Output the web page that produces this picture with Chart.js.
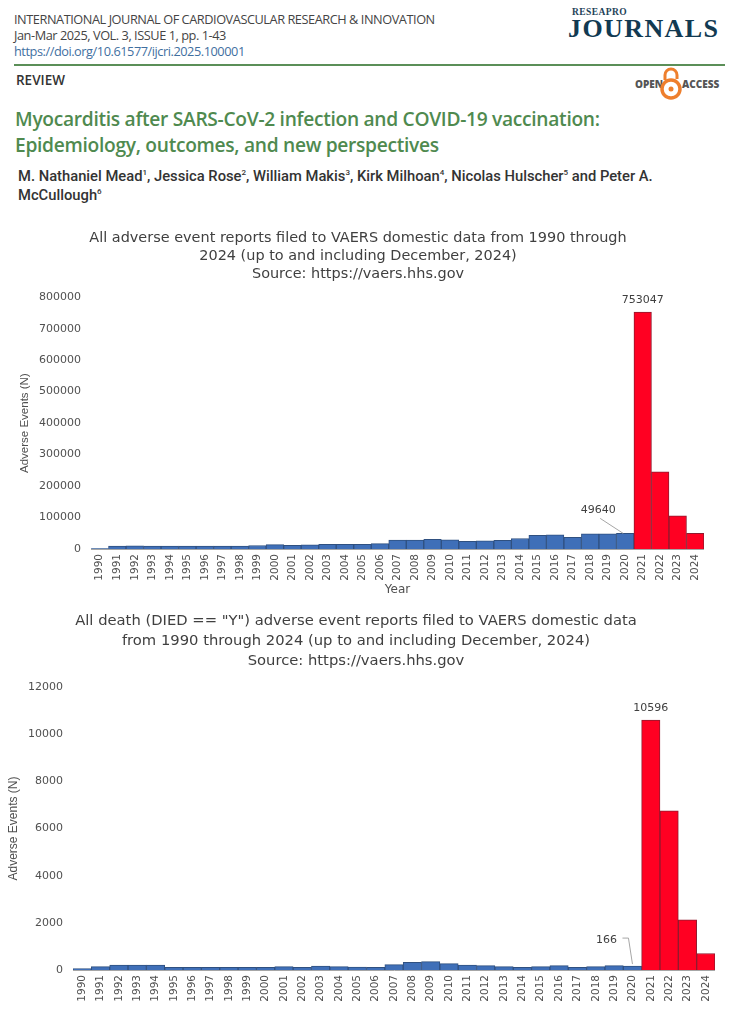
<!DOCTYPE html>
<html>
<head>
<meta charset="utf-8">
<title>VAERS adverse event reports</title>
<script src="https://cdn.jsdelivr.net/npm/chart.js@4"></script>
<style>
  html, body { margin: 0; padding: 0; background: #fff; }
  body { position: relative; width: 738px; height: 1024px; overflow: hidden; font-family: "Open Sans", sans-serif; }
  .t { position: absolute; white-space: nowrap; }
  canvas { position: absolute; }
  .rule { position: absolute; left: 14px; top: 64px; width: 711px; height: 2px; background: #5b8f58; }
  .jr { font-size: 12.75px; color: #444; letter-spacing: -0.45px; }
  .head { font-size: 19.2px; font-weight: 600; color: #4f8a4f; letter-spacing: -0.3px; }
  .auth { font-family: Roboto, sans-serif; font-size: 14.75px; font-weight: 500; color: #333; }
  .auth sup { font-size: 8px; line-height: 0; }
  .oa { font-size: 10px; font-weight: 800; color: #555; }
</style>
</head>
<body>
<div class="t jr" style="left:14px;top:10px">INTERNATIONAL JOURNAL OF CARDIOVASCULAR RESEARCH &amp; INNOVATION</div>
<div class="t jr" style="left:14px;top:26px">Jan-Mar 2025, VOL. 3, ISSUE 1, pp. 1-43</div>
<div class="t jr" style="left:14px;top:42px;color:#3f6f9f">https://doi.org/10.61577/ijcri.2025.100001</div>
<div class="t" style="left:572px;top:7px;font:bold 9.5px 'Liberation Serif',serif;color:#1d4258;letter-spacing:0.4px">RESEAPRO</div>
<div class="t" style="left:568px;top:14px;font:bold 26px 'Liberation Serif',serif;color:#123a52;letter-spacing:1.4px">JOURNALS</div>
<div class="rule"></div>
<div class="t" style="left:16px;top:71px;font-size:13.5px;font-weight:600;color:#333">REVIEW</div>
<div class="t oa" style="left:635px;top:77px">OPEN</div>
<div class="t oa" style="left:682px;top:77px">ACCESS</div>
<svg style="position:absolute;left:660px;top:67px" width="22" height="34" viewBox="0 0 22 34">
  <path d="M5 13 V8 A6 6 0 0 1 17 8 V12" fill="none" stroke="#ee7f2d" stroke-width="3"/>
  <circle cx="11" cy="22" r="9" fill="none" stroke="#ee7f2d" stroke-width="3.5"/>
  <circle cx="11" cy="22" r="2.5" fill="#ee7f2d"/>
</svg>
<div class="t head" style="left:15px;top:105px">Myocarditis after SARS-CoV-2 infection and COVID-19 vaccination:</div>
<div class="t head" style="left:15px;top:131px">Epidemiology, outcomes, and new perspectives</div>
<div class="t auth" style="left:18px;top:167px">M. Nathaniel Mead<sup>1</sup>, Jessica Rose<sup>2</sup>, William Makis<sup>3</sup>, Kirk Milhoan<sup>4</sup>, Nicolas Hulscher<sup>5</sup> and Peter A.</div>
<div class="t auth" style="left:18px;top:186px">McCullough<sup>6</sup></div>

<canvas id="allReports" style="left:12px;top:226px;width:692px;height:371px"></canvas>
<canvas id="deathReports" style="left:-3px;top:609px;width:718px;height:402px"></canvas>

<script>
const years = ['1990','1991','1992','1993','1994','1995','1996','1997','1998','1999','2000','2001',
  '2002','2003','2004','2005','2006','2007','2008','2009','2010','2011','2012','2013','2014','2015',
  '2016','2017','2018','2019','2020','2021','2022','2023','2024'];
const allEvents = [1000,9500,9800,9500,9300,9000,9500,9200,9500,11000,14000,11500,
  13000,15000,14500,14500,17000,28000,28000,31000,29000,24500,26000,27500,33500,43500,
  45000,37000,48500,48500,49640,753047,245000,105000,50000];
const deathEvents = [60,140,212,212,212,113,113,113,113,113,113,140,
  113,170,140,120,113,225,325,353,268,212,184,141,113,141,
  184,113,141,184,166,10596,6750,2130,700];
const allTicks = [0,100000,200000,300000,400000,500000,600000,700000,800000];
const deathTicks = [0,2000,4000,6000,8000,10000,12000];

const tickColor = '#505050';

// value labels with their leader lines, placed relative to the bar they belong to
const callouts = {
  id: 'callouts',
  afterDatasetsDraw(chart, args, opts) {
    const c = chart.ctx;
    const x = chart.scales.x, y = chart.scales.y;
    c.save();
    c.font = '11px "DejaVu Sans"';
    c.fillStyle = '#404040';
    c.textAlign = 'center';
    c.textBaseline = 'middle';
    const data = chart.data.datasets[0].data;
    // peak value sits straight above its bar
    c.fillText(data[opts.peak], x.getPixelForValue(opts.peak), y.getPixelForValue(data[opts.peak]) - 12);
    const px = x.getPixelForValue(opts.note);
    const py = y.getPixelForValue(data[opts.note]);
    c.fillText(data[opts.note], px + opts.textDx, py + opts.textDy);
    c.strokeStyle = '#a6a6a6';
    c.lineWidth = 1;
    c.beginPath();
    opts.leader.forEach(function(p, i) {
      if (i === 0) c.moveTo(px + p[0], py + p[1]);
      else c.lineTo(px + p[0], py + p[1]);
    });
    c.stroke();
    c.restore();
  }
};

function makeChart(id, values, ticks, yMax, cfg) {
  return new Chart(document.getElementById(id), {
    type: 'bar',
    data: {
      labels: years,
      datasets: [{
        data: values,
        backgroundColor: years.map(y => y >= '2021' ? '#ff0022' : '#3f6fb8'),
        borderColor: years.map(y => y >= '2021' ? '#8f1a2e' : '#2f5080'),
        borderWidth: 1,
        barPercentage: 1,
        categoryPercentage: 1
      }]
    },
    plugins: [callouts],
    options: {
      responsive: false,
      animation: false,
      plugins: {
        legend: { display: false },
        tooltip: { enabled: false },
        title: {
          display: true,
          text: cfg.title,
          color: '#404040',
          font: { family: '"DejaVu Sans"', size: cfg.titleSize, weight: 'normal', lineHeight: cfg.titleLine },
          padding: cfg.titlePad
        },
        callouts: cfg.callout
      },
      scales: {
        x: {
          grid: { display: false, drawTicks: false },
          border: { color: '#a6a6a6' },
          ticks: { autoSkip: false, minRotation: 90, maxRotation: 90, color: tickColor, padding: 5,
            font: { family: '"DejaVu Sans"', size: 10.5 } },
          title: cfg.xTitle,
          afterFit(s) { s.height = cfg.xHeight; s.paddingLeft = 0; s.paddingRight = 0; }
        },
        y: {
          min: 0,
          max: yMax,
          grid: { display: false, drawTicks: false },
          border: { display: false },
          afterBuildTicks(s) { s.ticks = ticks.map(v => ({ value: v })); },
          ticks: { color: tickColor, padding: 10, font: { family: '"DejaVu Sans"', size: 11 },
            callback: v => String(v) },
          title: { display: true, text: 'Adverse Events (N)', color: tickColor, padding: { top: cfg.yTitleLeft, bottom: 0 },
            font: { family: '"Liberation Sans"', size: cfg.yTitleSize } },
          afterFit(s) { s.width = cfg.yWidth; }
        }
      }
    }
  });
}

function sizeCanvas(id, w, h) {
  const el = document.getElementById(id);
  el.width = w; el.height = h;
}
sizeCanvas('allReports', 692, 371);
sizeCanvas('deathReports', 718, 402);

makeChart('allReports', allEvents, allTicks, 800000, {
  title: ['All adverse event reports filed to VAERS domestic data from 1990 through',
          '2024 (up to and including December, 2024)', 'Source: https://vaers.hhs.gov'],
  titleSize: 14.45, titleLine: 1.25, titlePad: { top: 3, bottom: 14 },
  yWidth: 79, xHeight: 48, yTitleLeft: 6, yTitleSize: 11.5,
  xTitle: { display: true, text: 'Year', color: tickColor, align: 'center', padding: { top: 0, bottom: 0 },
            font: { family: '"DejaVu Sans"', size: 12 } },
  callout: { peak: 31, note: 30, textDx: -27, textDy: -23, leader: [[-25, -15], [-2, 0]] }
});

makeChart('deathReports', deathEvents, deathTicks, 12000, {
  title: ['All death (DIED == "Y") adverse event reports filed to VAERS domestic data',
          'from 1990 through 2024 (up to and including December, 2024)', 'Source: https://vaers.hhs.gov'],
  titleSize: 14.75, titleLine: 1.356, titlePad: { top: 2, bottom: 16 },
  yWidth: 76, xHeight: 41, yTitleLeft: 9, yTitleSize: 12,
  xTitle: { display: false },
  callout: { peak: 31, note: 30, textDx: -26, textDy: -26, leader: [[-10, -28], [-4, -28], [0, -2]] }
});
</script>
</body>
</html>
